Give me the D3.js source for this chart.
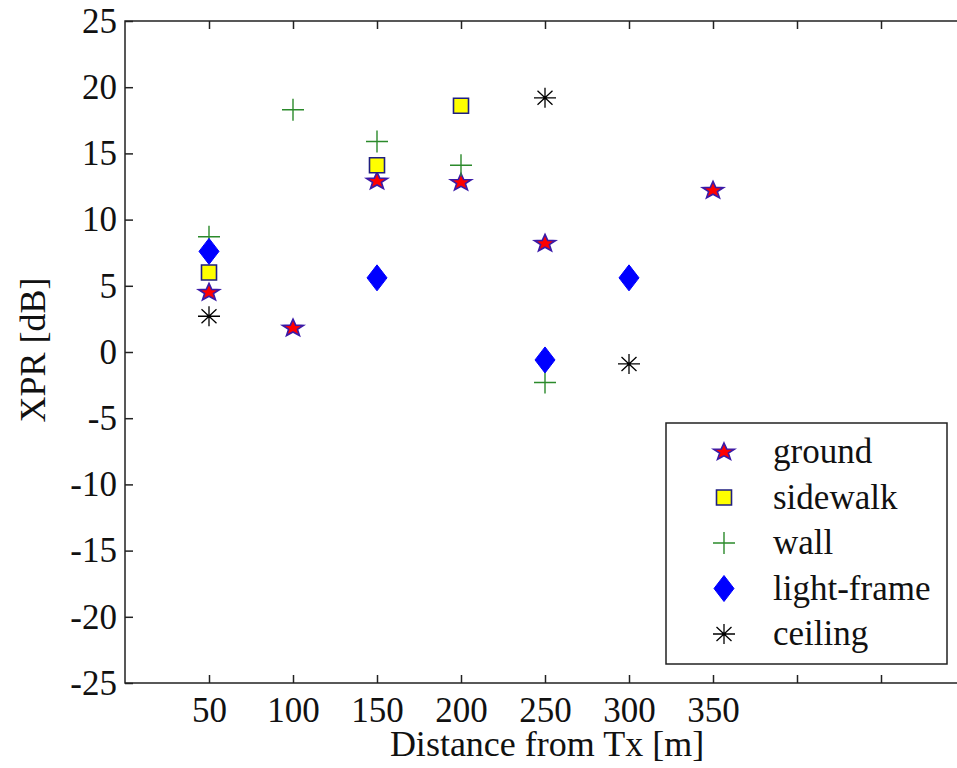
<!DOCTYPE html>
<html>
<head>
<meta charset="utf-8">
<script src="https://cdn.jsdelivr.net/npm/d3@7/dist/d3.min.js"></script>
<style>
  html, body { margin: 0; padding: 0; background: #fff; }
  svg { display: block; }
</style>
</head>
<body>
<svg id="chart" width="957" height="768"></svg>
<script>
// ---- data ----
const seriesNames = ["ground", "sidewalk", "wall", "light-frame", "ceiling"];
const groundX = [50, 100, 150, 200, 250, 350];
const groundY = [4.5, 1.8, 12.9, 12.8, 8.2, 12.2];
const sidewalkX = [50, 150, 200];
const sidewalkY = [6.0, 14.1, 18.6];
const wallX = [50, 100, 150, 200, 250];
const wallY = [8.7, 18.3, 15.9, 14.1, -2.3];
const lightFrameX = [50, 150, 250, 300];
const lightFrameY = [7.6, 5.6, -0.6, 5.6];
const ceilingX = [50, 250, 300];
const ceilingY = [2.7, 19.2, -0.9];
const xTicks = [50, 100, 150, 200, 250, 300, 350, 400, 450];
const xTickLabels = ["50", "100", "150", "200", "250", "300", "350", "", ""];
const yTicks = [-25, -20, -15, -10, -5, 0, 5, 10, 15, 20, 25];
const xLabel = "Distance from Tx [m]";
const yLabel = "XPR [dB]";

// ---- layout ----
const FONT = "'Liberation Serif', 'Times New Roman', Times, serif";
const svg = d3.select("#chart").attr("font-family", FONT);
const L = 125, R = 965, T = 21, B = 683;
const x = d3.scaleLinear().domain([0, 500]).range([L, R]);
const y = d3.scaleLinear().domain([-25, 25]).range([B, T]);
const FS = 35, FT = 36;

// marker shapes (path strings centered at 0,0)
function starPath(r, ratio, sy) {
  const pts = [];
  for (let i = 0; i < 10; i++) {
    const a = -Math.PI / 2 + i * Math.PI / 5;
    const rr = i % 2 === 0 ? r : r * ratio;
    pts.push([rr * Math.cos(a), rr * Math.sin(a) * sy]);
  }
  return "M" + pts.map(p => p[0].toFixed(2) + "," + p[1].toFixed(2)).join("L") + "Z";
}
const shapes = {
  "ground": { d: starPath(11, 0.42, 0.82), fill: "#ff0000", stroke: "#3a1aa8", sw: 1.6 },
  "sidewalk": { d: "M-7.5,-7.5H7.5V7.5H-7.5Z", fill: "#ffff00", stroke: "#1f1f80", sw: 1.6 },
  "wall": { d: "M-11,0H11M0,-11V11", fill: "none", stroke: "#2b8a2b", sw: 1.4 },
  "light-frame": { d: "M0,-13L10,0L0,13L-10,0Z", fill: "#0000ff", stroke: "#0000ff", sw: 1 },
  "ceiling": { d: "M-11,0H11M0,-10V10M-7.5,-7L7.5,7M-7.5,7L7.5,-7", fill: "none", stroke: "#000", sw: 1.3 }
};

const series = [
  { name: "ground", xs: groundX, ys: groundY },
  { name: "sidewalk", xs: sidewalkX, ys: sidewalkY },
  { name: "wall", xs: wallX, ys: wallY },
  { name: "light-frame", xs: lightFrameX, ys: lightFrameY },
  { name: "ceiling", xs: ceilingX, ys: ceilingY }
];

// ---- axes ----
const axisStyle = g => {
  g.attr("font-family", FONT).attr("font-size", FS);
  g.select(".domain").remove();
  g.selectAll(".tick line").attr("stroke", "#222").attr("stroke-width", 1.5);
  g.selectAll(".tick text").attr("fill", "#111")
    .style("font-family", FONT).style("font-size", FS + "px");
};
svg.append("g").attr("transform", `translate(0,${B})`)
  .call(d3.axisBottom(x).tickValues(xTicks).tickSizeInner(-8).tickSizeOuter(0).tickPadding(14)
    .tickFormat((d, i) => xTickLabels[i]))
  .call(axisStyle);
svg.append("g").attr("transform", `translate(0,${T})`)
  .call(d3.axisTop(x).tickValues(xTicks).tickSizeInner(-8).tickSizeOuter(0).tickFormat(""))
  .call(axisStyle);
svg.append("g").attr("transform", `translate(${L},0)`)
  .call(d3.axisLeft(y).tickValues(yTicks).tickSizeInner(-8).tickSizeOuter(0).tickPadding(8)
    .tickFormat(d => String(d)))
  .call(axisStyle);
svg.append("g").attr("transform", `translate(${R},0)`)
  .call(d3.axisRight(y).tickValues(yTicks).tickSizeInner(-8).tickSizeOuter(0).tickFormat(""))
  .call(axisStyle);

// frame
svg.append("rect").attr("x", L).attr("y", T).attr("width", R - L).attr("height", B - T)
  .attr("fill", "none").attr("stroke", "#222").attr("stroke-width", 1.5);

// axis titles
svg.append("text").attr("x", (L + R) / 2 + 2).attr("y", 756).attr("text-anchor", "middle")
  .style("font-family", FONT).style("font-size", FT + "px").attr("fill", "#111").text(xLabel);
svg.append("text").attr("transform", `translate(45,${(T + B) / 2 - 2}) rotate(-90)`)
  .attr("text-anchor", "middle").style("font-family", FONT).style("font-size", FT + "px")
  .attr("fill", "#111").text(yLabel);

// ---- markers ----
series.forEach(s => {
  const sh = shapes[s.name];
  svg.append("g").attr("class", "series-" + s.name)
    .selectAll("path").data(s.xs.map((xv, i) => ({ x: xv, y: s.ys[i] })))
    .join("path")
    .attr("transform", d => `translate(${x(d.x)},${y(d.y)})`)
    .attr("d", sh.d).attr("fill", sh.fill).attr("stroke", sh.stroke)
    .attr("stroke-width", sh.sw).attr("stroke-linejoin", "miter");
});

// ---- legend ----
const lg = svg.append("g");
lg.append("rect").attr("x", 666).attr("y", 423).attr("width", 281).attr("height", 241)
  .attr("fill", "#fff").attr("stroke", "#222").attr("stroke-width", 1.5);
seriesNames.forEach((n, i) => {
  const cy = 452 + i * 45.5;
  const sh = shapes[n];
  lg.append("path").attr("transform", `translate(724,${cy})`).attr("d", sh.d)
    .attr("fill", sh.fill).attr("stroke", sh.stroke).attr("stroke-width", sh.sw);
  lg.append("text").attr("x", 773).attr("y", cy).attr("dy", "0.32em")
    .style("font-family", FONT).style("font-size", FS + "px").attr("fill", "#111").text(n);
});
</script>
</body>
</html>
